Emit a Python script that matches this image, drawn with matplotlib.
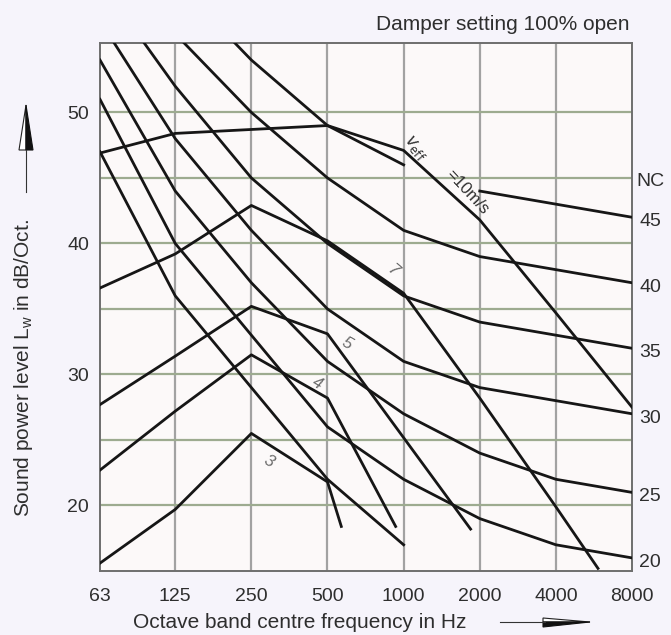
import matplotlib
matplotlib.use('Agg')
import matplotlib.pyplot as plt
from matplotlib.patches import Polygon
from matplotlib.lines import Line2D

plt.rcParams['font.family'] = ['Liberation Sans', 'DejaVu Sans']

# octave band centre frequencies (Hz)
freqs = [63, 125, 250, 500, 1000, 2000, 4000, 8000]
freq_labels = ['63', '125', '250', '500', '1000', '2000', '4000', '8000']

# NC curves (sound power level in dB per octave band)
nc15 = [47, 36, 29, 22, 17]
nc20 = [51, 40, 33, 26, 22, 19, 17, 16]
nc25 = [54, 44, 37, 31, 27, 24, 22, 21]
nc30 = [57, 48, 41, 35, 31, 29, 28, 27]
nc35 = [60, 52, 45, 40, 36, 34, 33, 32]
nc40 = [64, 56, 50, 45, 41, 39, 38, 37]
nc45 = [67, 60, 54, 49, 46, 44, 43, 42]
nc_names = ['20', '25', '30', '35', '40', '45']

# damper sound power for effective velocities
v3_f = [63, 125, 250, 500, 567]
v3_L = [15.6, 19.7, 25.5, 21.8, 18.4]
v4_f = [63, 125, 250, 500, 930]
v4_L = [22.7, 27.2, 31.5, 28.2, 18.4]
v5_f = [63, 125, 250, 500, 1840]
v5_L = [27.7, 31.4, 35.2, 33.1, 18.2]
v7_f = [63, 125, 250, 500, 1000, 2000, 4000, 5870]
v7_L = [36.6, 39.2, 42.9, 40.2, 36.2, 28.2, 19.9, 15.2]
v10_f = [63, 125, 250, 500, 1000, 2000, 4000, 8000]
v10_L = [46.9, 48.4, 48.7, 49.0, 47.1, 41.8, 34.7, 27.5]

line_col = '#161616'
txt_col = '#2e2e2e'
lw = 2.0

fig = plt.figure(figsize=(6.71, 6.35), dpi=100)
fig.patch.set_facecolor('#f6f4fb')
ax = fig.add_axes([100 / 671, 1 - 571 / 635, 532 / 671, 528 / 635])
ax.set_facecolor('#fcf9f9')

ax.set_xscale('log', base=2)
ax.set_xlim(63, 8000)
ax.set_ylim(15, 55.3)

# grid
for f in freqs[1:-1]:
    ax.axvline(f, color='#a2a2a2', lw=1.6, zorder=1)
for level in range(20, 55, 5):
    ax.axhline(level, color='#9dab90', lw=1.6, zorder=1)

# NC curves
ax.plot(freqs[:5], nc15, color=line_col, lw=lw, zorder=3)
for nc in [nc20, nc25, nc30, nc35, nc40]:
    ax.plot(freqs, nc, color=line_col, lw=lw, zorder=3)
ax.plot(freqs[:5], nc45[:5], color=line_col, lw=lw, zorder=3)
ax.plot(freqs[5:], nc45[5:], color=line_col, lw=lw, zorder=3)

# velocity curves
for f, L in [(v3_f, v3_L), (v4_f, v4_L), (v5_f, v5_L), (v7_f, v7_L), (v10_f, v10_L)]:
    ax.plot(f, L, color=line_col, lw=lw, zorder=3)

# velocity labels
lab_kw = dict(color='#6a6a6a', fontsize=12, ha='center', va='center', style='italic')
ax.text(292, 23.4, '3', rotation=-30, **lab_kw)
ax.text(456, 29.3, '4', rotation=-30, **lab_kw)
ax.text(599, 32.4, '5', rotation=-30, **lab_kw)
ax.text(903, 37.9, '7', rotation=-40, **lab_kw)
ax.text(1114, 47.3, r'$v_{\rm eff}$', rotation=-50, color=txt_col, fontsize=12,
        ha='center', va='center')
ax.text(1790, 43.9, '=10m/s', rotation=-47, color=txt_col, fontsize=12,
        ha='center', va='center')

# NC labels on the right
ax.text(1.034, nc45[-1] + 2.7, 'NC', transform=ax.get_yaxis_transform(),
        ha='center', va='center', fontsize=14, color=txt_col, clip_on=False)
for name, nc in zip(nc_names, [nc20, nc25, nc30, nc35, nc40, nc45]):
    ax.text(1.034, nc[-1] - 0.35, name, transform=ax.get_yaxis_transform(),
            ha='center', va='center', fontsize=14, color=txt_col, clip_on=False)

# axes
ax.set_xticks(freqs)
ax.set_xticklabels(freq_labels)
ax.minorticks_off()
ax.set_yticks([20, 30, 40, 50])
ax.tick_params(length=0, labelsize=14, colors=txt_col)
ax.tick_params(axis='x', pad=12)
ax.tick_params(axis='y', pad=8)
for s in ax.spines.values():
    s.set_color('#6e6e6e')
    s.set_linewidth(1.4)

fig.text(630 / 671, 1 - 24 / 635, 'Damper setting 100% open', ha='right', va='center',
         fontsize=15, color=txt_col)
fig.text(133 / 671, 1 - 623 / 635, 'Octave band centre frequency in Hz', ha='left',
         va='center', fontsize=15, color=txt_col)
fig.text(24 / 671, 1 - 368 / 635, r'Sound power level L$_{\mathregular{w}}$ in dB/Oct.',
         rotation=90, ha='center', va='center', fontsize=15, color=txt_col)

# arrows next to axis titles
W, H = 671, 635


def px(x, y):
    return (x / W, 1 - y / H)


fig.add_artist(Line2D([500 / W, 545 / W], [1 - 622 / H, 1 - 622 / H],
                      color='#333333', lw=0.8))
fig.add_artist(Polygon([px(543, 618), px(590, 622), px(543, 622)], closed=True,
                       facecolor='white', edgecolor='#222222', lw=0.8))
fig.add_artist(Polygon([px(543, 622), px(590, 622), px(543, 627)], closed=True,
                       facecolor='#111111', edgecolor='#111111', lw=0.8))
fig.add_artist(Line2D([26 / W, 26 / W], [1 - 150 / H, 1 - 192 / H],
                      color='#333333', lw=0.8))
fig.add_artist(Polygon([px(19, 150), px(26, 105), px(26, 150)], closed=True,
                       facecolor='white', edgecolor='#222222', lw=0.8))
fig.add_artist(Polygon([px(26, 150), px(26, 105), px(33, 150)], closed=True,
                       facecolor='#111111', edgecolor='#111111', lw=0.8))

fig.savefig('out.png', dpi=100, facecolor=fig.get_facecolor())
